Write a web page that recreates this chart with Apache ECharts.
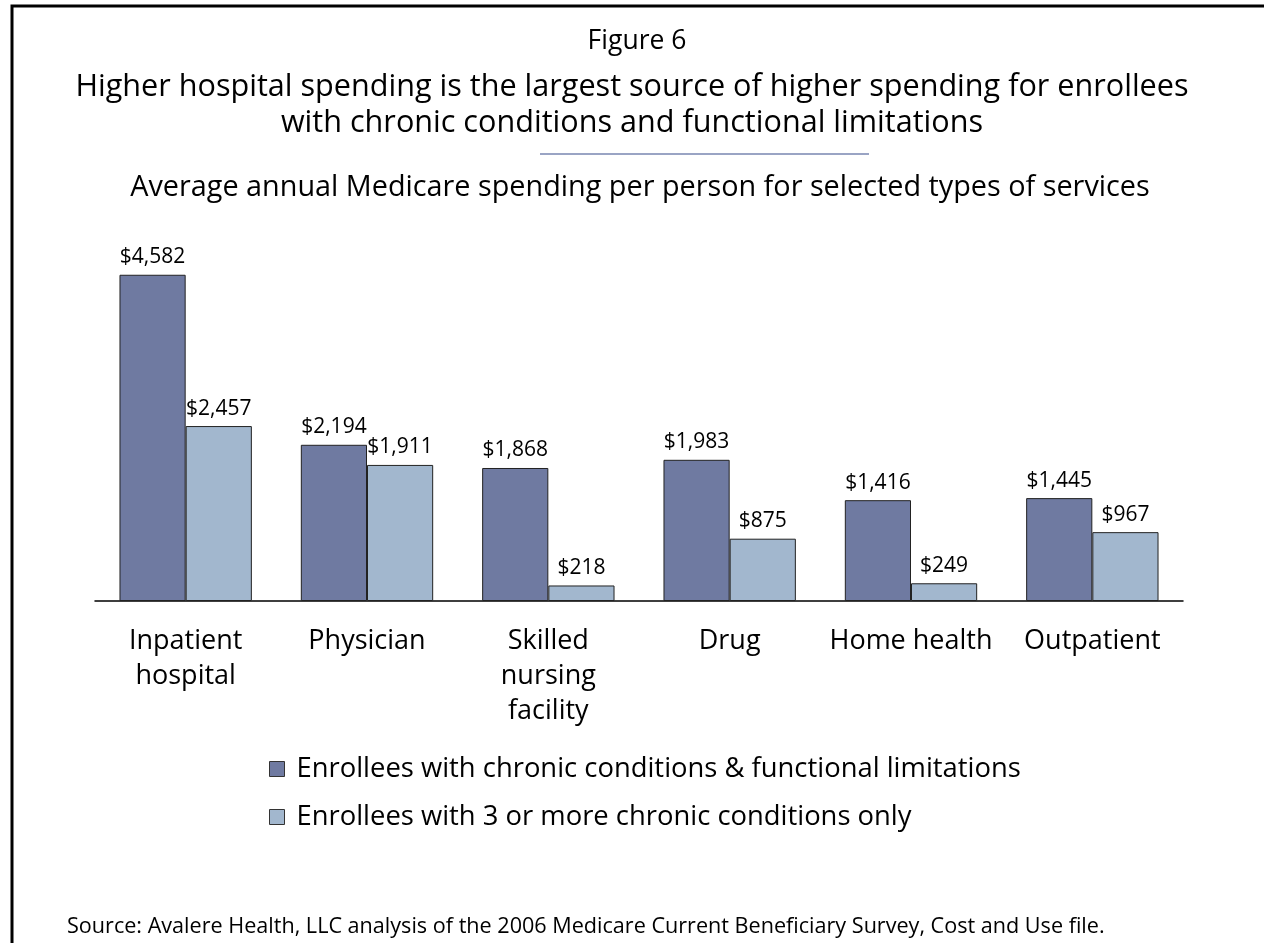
<!DOCTYPE html>
<html>
<head>
<meta charset="utf-8">
<title>Figure 6</title>
<script src="https://cdn.jsdelivr.net/npm/echarts@6/dist/echarts.min.js"></script>
<style>
  html, body { margin: 0; padding: 0; background: #ffffff; }
  #chart { width: 1264px; height: 943px; }
</style>
</head>
<body>
<div id="chart"></div>
<script>
// Service categories along the x axis
const categories = [
  'Inpatient\nhospital',
  'Physician',
  'Skilled\nnursing\nfacility',
  'Drug',
  'Home health',
  'Outpatient'
];

// Average annual Medicare spending per person (dollars)
const chronicAndFunctional = [4582, 2194, 1868, 1983, 1416, 1445];
const chronicOnly = [2457, 1911, 218, 875, 249, 967];

const seriesNames = [
  'Enrollees with chronic conditions & functional limitations',
  'Enrollees with 3 or more chronic conditions only'
];

const FONT = '"Open Sans", Lato, sans-serif';
const DARK = '#6f7aa1';
const LIGHT = '#a2b7ce';

const chart = echarts.init(document.getElementById('chart'), null, { renderer: 'canvas' });

const fmt = v => '$' + v.toLocaleString('en-US');

chart.setOption({
  backgroundColor: '#ffffff',
  animation: false,
  textStyle: { fontFamily: FONT, color: '#000' },
  graphic: [
    // page frame
    { type: 'rect', shape: { x: 12, y: 6, width: 1400, height: 1100 },
      style: { fill: 'none', stroke: '#000', lineWidth: 3 }, silent: true },
    // rule under the heading
    { type: 'line', shape: { x1: 540, y1: 154, x2: 869, y2: 154 },
      style: { stroke: '#9aa4c4', lineWidth: 2 }, silent: true },
    { type: 'text', style: { x: 637, y: 41, text: 'Figure 6', font: '26.5px ' + FONT,
      fill: '#000', align: 'center', verticalAlign: 'middle' } },
    { type: 'text', style: { x: 632, y: 87,
      text: 'Higher hospital spending is the largest source of higher spending for enrollees',
      font: '30.6px ' + FONT, fill: '#000', align: 'center', verticalAlign: 'middle' } },
    { type: 'text', style: { x: 632, y: 123,
      text: 'with chronic conditions and functional limitations',
      font: '30.6px ' + FONT, fill: '#000', align: 'center', verticalAlign: 'middle' } },
    { type: 'text', style: { x: 640, y: 188,
      text: 'Average annual Medicare spending per person for selected types of services',
      font: '28.8px ' + FONT, fill: '#000', align: 'center', verticalAlign: 'middle' } },
    { type: 'text', style: { x: 67, y: 927,
      text: 'Source: Avalere Health, LLC analysis of the 2006 Medicare Current Beneficiary Survey, Cost and Use file.',
      font: '21.6px ' + FONT, fill: '#000', align: 'left', verticalAlign: 'middle' } }
  ],
  legend: {
    orient: 'vertical',
    left: 264,
    top: 749,
    itemWidth: 15,
    itemHeight: 15,
    itemGap: 18,
    icon: 'rect',
    data: seriesNames,
    textStyle: { fontFamily: FONT, fontSize: 27.4, color: '#000', lineHeight: 30, padding: [0, 0, 0, 7] },
    itemStyle: { borderColor: '#333', borderWidth: 1 }
  },
  grid: { left: 95, right: 81, top: 245, height: 356, containLabel: false },
  xAxis: {
    type: 'category',
    data: categories,
    axisLine: { show: true, lineStyle: { color: '#000', width: 1.5 } },
    axisTick: { show: false },
    axisLabel: {
      interval: 0,
      margin: 23,
      fontFamily: FONT,
      fontSize: 27,
      lineHeight: 35,
      color: '#000',
      align: 'center'
    }
  },
  yAxis: {
    type: 'value',
    min: 0,
    max: 5000,
    show: false,
    splitLine: { show: false }
  },
  series: [
    {
      name: seriesNames[0],
      type: 'bar',
      data: chronicAndFunctional,
      barGap: '0%',
      barCategoryGap: '27%',
      itemStyle: { color: DARK, borderColor: '#222', borderWidth: 1 },
      label: { show: true, position: 'top', distance: 7, fontFamily: FONT, fontSize: 21,
        color: '#000', formatter: p => fmt(p.value) }
    },
    {
      name: seriesNames[1],
      type: 'bar',
      data: chronicOnly,
      barGap: '0%',
      barCategoryGap: '27%',
      itemStyle: { color: LIGHT, borderColor: '#222', borderWidth: 1 },
      label: { show: true, position: 'top', distance: 7, fontFamily: FONT, fontSize: 21,
        color: '#000', formatter: p => fmt(p.value) }
    }
  ]
});
</script>
</body>
</html>
